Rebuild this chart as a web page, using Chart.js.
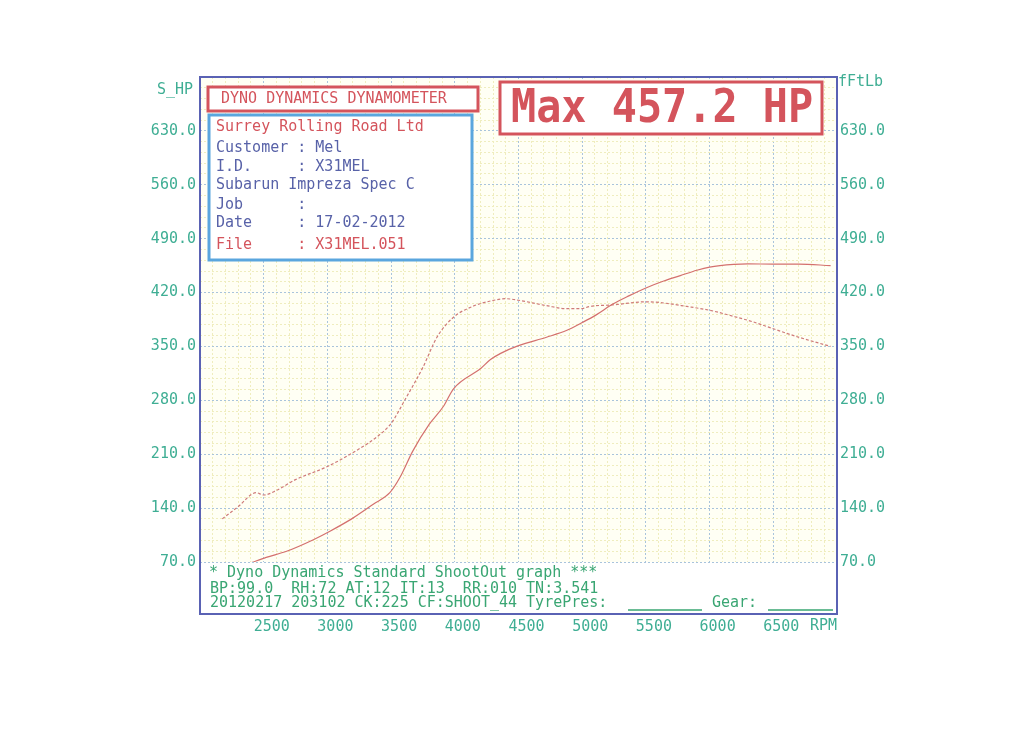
<!DOCTYPE html>
<html>
<head>
    <title>Dyno chart</title>
    <script src="https://cdn.jsdelivr.net/npm/chart.js@4.4.1/dist/chart.umd.min.js"></script>
    <style>
        body { margin: 0; background: #ffffff; }
    </style>
</head>
<body>
    <canvas id="ctx" width="1024" height="744"></canvas>

    <script>
        // values
        const rpmPower = [2400, 2520, 2680, 2890, 3020, 3200, 3360, 3490, 3570, 3670, 3800, 3910, 3990, 4200, 4280, 4360, 4500, 4720, 4880, 5000, 5110, 5240, 5370, 5500, 5640, 5770, 5900, 6000, 6190, 6300, 6500, 6700, 6950];
        const power    = [69, 76, 84, 99, 110, 127, 145, 160, 180, 214, 249, 272, 295, 321, 333, 341, 351, 362, 371, 381, 391, 405, 416, 426, 435, 442, 449, 453, 456.5, 457.2, 457, 457, 455];

        const rpmTorque = [2175, 2300, 2440, 2500, 2600, 2750, 3000, 3250, 3400, 3500, 3620, 3750, 3860, 3990, 4140, 4280, 4400, 4500, 4720, 4880, 4990, 5060, 5240, 5500, 5610, 5820, 6000, 6190, 6340, 6500, 6680, 6950];
        const torque    = [126, 142, 160, 157, 163, 177, 194, 217, 234, 250, 284, 323, 362, 388, 402, 409, 412, 410, 403, 399, 399, 402, 404, 408, 407, 402, 397, 389, 382, 373, 363, 350];

        const infoLines = [
            ['Surrey Rolling Road Ltd', 'red'],
            ['Customer : Mel', 'blue'],
            ['I.D.     : X31MEL', 'blue'],
            ['Subarun Impreza Spec C', 'blue'],
            ['Job      :', 'blue'],
            ['Date     : 17-02-2012', 'blue'],
            ['File     : X31MEL.051', 'red']
        ];
        const footerLines = [
            '* Dyno Dynamics Standard ShootOut graph ***',
            'BP:99.0  RH:72 AT:12 IT:13  RR:010 TN:3.541',
            '20120217 203102 CK:225 CF:SHOOT_44 TyrePres:'
        ];

        const RED = '#d4545c';
        const BLUE_TXT = '#5862a8';
        const TEAL = '#3fae94';
        const GREEN = '#3aa673';
        const MONO = '"DejaVu Sans Mono", "Liberation Mono", monospace';

        const toXY = (xs, ys) => xs.map((x, i) => ({x: x, y: ys[i]}));

        const isMajorX = v => Math.round(v) % 500 === 0;
        const isMajorY = v => Math.round(v) % 70 === 0;

        const dynoPlugin = {
            id: 'dyno',
            beforeDraw(chart) {
                const c = chart.ctx, a = chart.chartArea;
                c.save();
                c.fillStyle = '#fffff4';
                c.fillRect(a.left, a.top, a.right - a.left, a.bottom - a.top);
                c.restore();
            },
            afterDraw(chart) {
                const c = chart.ctx, a = chart.chartArea;
                c.save();

                // footer area + outer frame
                const fBottom = a.bottom + 52;
                c.fillStyle = '#ffffff';
                c.fillRect(a.left, a.bottom + 1, a.right - a.left, fBottom - a.bottom - 1);
                c.strokeStyle = '#5a62b4';
                c.lineWidth = 2;
                c.strokeRect(a.left, a.top, a.right - a.left, fBottom - a.top);

                c.font = '15px ' + MONO;
                c.textBaseline = 'middle';
                c.fillStyle = GREEN;
                c.fillText(footerLines[0], 209, a.bottom + 11);
                c.fillText(footerLines[1], 210, a.bottom + 27);
                c.fillText(footerLines[2], 210, a.bottom + 41);
                c.fillText('Gear:', 712, a.bottom + 41);
                c.strokeStyle = GREEN;
                c.lineWidth = 1.5;
                c.beginPath();
                c.moveTo(628, a.bottom + 48); c.lineTo(702, a.bottom + 48);
                c.moveTo(768, a.bottom + 48); c.lineTo(833, a.bottom + 48);
                c.stroke();

                // axis titles
                c.fillStyle = TEAL;
                c.fillText('S_HP', 157, 90);
                c.fillText('fFtLb', 838, 82);
                c.fillText('RPM', 810, 626);

                // title box
                c.fillStyle = '#ffffff';
                c.fillRect(208, 87, 270, 24);
                c.strokeStyle = RED;
                c.lineWidth = 3;
                c.strokeRect(208, 87, 270, 24);
                c.fillStyle = RED;
                c.fillText('DYNO DYNAMICS DYNAMOMETER', 221, 99);

                // info box
                c.fillStyle = '#ffffff';
                c.fillRect(209, 115, 263, 145);
                c.strokeStyle = '#5aa6de';
                c.lineWidth = 3;
                c.strokeRect(209, 115, 263, 145);
                const ys = [127, 148, 167, 185, 205, 223, 245];
                infoLines.forEach((l, i) => {
                    c.fillStyle = l[1] === 'red' ? RED : BLUE_TXT;
                    c.fillText(l[0], 216, ys[i]);
                });

                // max box
                c.fillStyle = '#ffffff';
                c.fillRect(500, 82, 322, 52);
                c.strokeStyle = RED;
                c.lineWidth = 3;
                c.strokeRect(500, 82, 322, 52);
                c.fillStyle = RED;
                c.translate(511, 110);
                c.scale(1.02, 1.12);
                c.font = 'bold 41px ' + MONO;
                c.fillText('Max ' + Math.max(...power).toFixed(1) + ' HP', 0, 0);

                c.restore();
            }
        };

        const ctx = document.getElementById('ctx');

        new Chart(ctx, {
            type: 'line',
            data: {
                datasets: [{
                    label: 'Power (HP)',
                    data: toXY(rpmPower, power),
                    borderColor: '#d4706e',
                    borderWidth: 1.2,
                    pointRadius: 0,
                    cubicInterpolationMode: 'monotone',
                    yAxisID: 'y'
                },
                {
                    label: 'Torque (ftLb)',
                    data: toXY(rpmTorque, torque),
                    borderColor: '#cf7a78',
                    borderWidth: 1.2,
                    borderDash: [3, 2],
                    pointRadius: 0,
                    cubicInterpolationMode: 'monotone',
                    yAxisID: 'y2'
                }]
            },
            options: {
                responsive: false,
                animation: false,
                layout: { padding: { top: 77, left: 0, right: 0, bottom: 0 } },
                plugins: {
                    legend: { display: false },
                    tooltip: { enabled: false }
                },
                scales: {
                    x: {
                        type: 'linear',
                        min: 2000,
                        max: 7000,
                        afterFit: s => { s.height = 744 - 562; },
                        grid: {
                            color: c => isMajorX(c.tick.value) ? '#a9c4dc' : '#efedbe',
                            drawTicks: false,
                            lineWidth: 1
                        },
                        border: { display: false, dash: [2, 2] },
                        ticks: {
                            stepSize: 100,
                            autoSkip: false,
                            maxRotation: 0,
                            padding: 56,
                            labelOffset: 8,
                            color: TEAL,
                            font: { family: MONO, size: 15 },
                            callback: v => (isMajorX(v) && v > 2000 && v < 7000) ? String(Math.round(v)) : ''
                        }
                    },
                    y: {
                        position: 'left',
                        min: 70,
                        max: 700,
                        afterFit: s => { s.width = 200; },
                        grid: {
                            color: c => isMajorY(c.tick.value) ? '#a9c4dc' : '#efedbe',
                            drawTicks: false
                        },
                        border: { display: false, dash: [2, 2] },
                        ticks: {
                            stepSize: 14,
                            autoSkip: false,
                            padding: 4,
                            color: TEAL,
                            font: { family: MONO, size: 15 },
                            callback: v => (isMajorY(v) && v < 700) ? Math.round(v).toFixed(1) : ''
                        }
                    },
                    y2: {
                        position: 'right',
                        min: 70,
                        max: 700,
                        afterFit: s => { s.width = 1024 - 837; },
                        grid: { drawOnChartArea: false, drawTicks: false },
                        border: { display: false },
                        ticks: {
                            stepSize: 14,
                            autoSkip: false,
                            padding: 3,
                            color: TEAL,
                            font: { family: MONO, size: 15 },
                            callback: v => (isMajorY(v) && v < 700) ? Math.round(v).toFixed(1) : ''
                        }
                    }
                }
            },
            plugins: [dynoPlugin]
        });
    </script>
</body>
</html>
